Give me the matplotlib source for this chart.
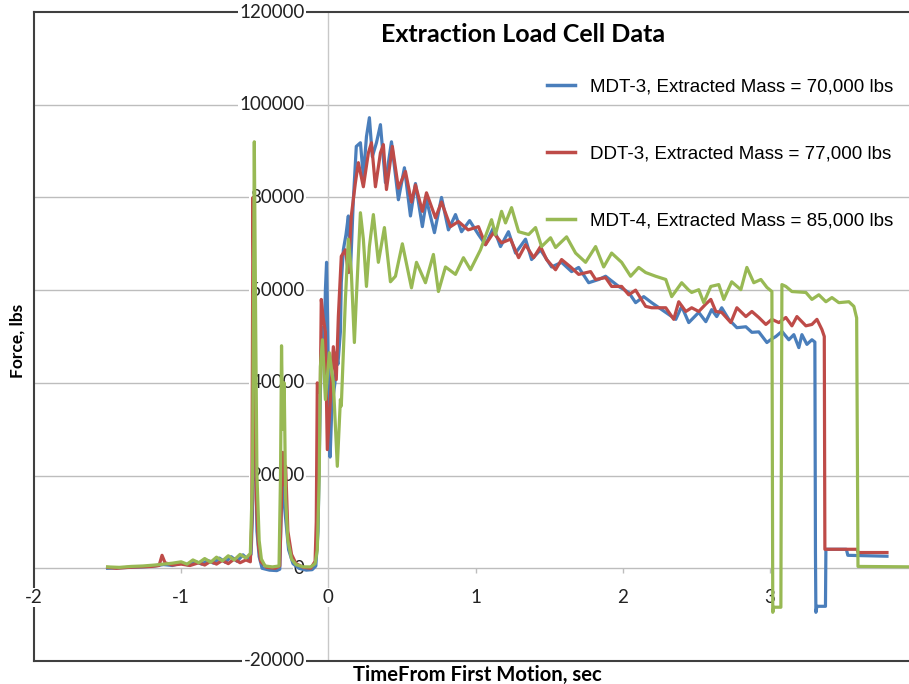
import matplotlib
matplotlib.use("Agg")
import matplotlib.pyplot as plt

# data (time in sec, force in lbs)
mdt3_t = [-1.50, -1.42, -1.34, -1.26, -1.18, -1.12, -1.06, -1.00, -0.95, -0.90, -0.86, -0.82, -0.78, -0.74,
          -0.70, -0.66, -0.62, -0.58, -0.55, -0.525, -0.515, -0.505, -0.495, -0.485, -0.47, -0.45, -0.40,
          -0.35, -0.33, -0.322, -0.312, -0.30, -0.285, -0.27, -0.24, -0.20, -0.15, -0.11, -0.085, -0.07,
          -0.058, -0.05, -0.04, -0.03, -0.02, -0.012, -0.005, 0.005, 0.012, 0.022, 0.03, 0.045, 0.054,
          0.065, 0.082, 0.088, 0.102, 0.12, 0.136, 0.150, 0.170, 0.190, 0.218, 0.238, 0.259, 0.279, 0.299,
          0.327, 0.354, 0.388, 0.429, 0.476, 0.517, 0.558, 0.592, 0.639, 0.667, 0.721, 0.769, 0.816, 0.864,
          0.905, 0.96, 1.020, 1.068, 1.122, 1.170, 1.224, 1.272, 1.340, 1.381, 1.442, 1.517, 1.585, 1.653,
          1.701, 1.769, 1.837, 1.884, 1.973, 2.041, 2.088, 2.143, 2.197, 2.265, 2.361, 2.401, 2.449, 2.517,
          2.565, 2.605, 2.639, 2.673, 2.721, 2.776, 2.837, 2.878, 2.925, 2.980, 3.014, 3.041, 3.082, 3.129,
          3.163, 3.197, 3.218, 3.252, 3.286, 3.306, 3.310, 3.313, 3.320, 3.378, 3.381, 3.52, 3.53, 3.796]
mdt3_f = [0, 100, 200, 300, 500, 800, 600, 1100, 700, 1400, 900, 1700, 1100, 2200,
          1300, 2500, 1500, 2900, 2000, 3000, 12000, 45000, 28000, 8000, 2500, 0, -400,
          -500, -200, 10000, 21000, 14000, 9000, 4000, 1000, 0, -400, -300, 500, 8000,
          30000, 45000, 52000, 46000, 60000, 66000, 54000, 30000, 24000, 33000, 36400, 40000, 46500,
          44000, 51000, 61600, 68700, 72000, 76000, 63800, 79500, 91000, 91800, 84500, 93100, 97200, 88800,
          91800, 95700, 83200, 92000, 79500, 86400, 76000, 83000, 73700, 79500, 72400, 80000, 73000, 76300,
          72600, 75000, 72000, 69800, 73500, 69400, 72600, 68000, 71000, 66600, 68700, 65000, 66000, 64000,
          64900, 61600, 62300, 63000, 60800, 59500, 57300, 58600, 57300, 55800, 53700, 56500, 53000, 55200,
          53200, 55800, 54300, 56200, 53700, 51900, 52100, 50900, 51000, 48700, 49500, 50000, 51100, 49300,
          50400, 47600, 50400, 48300, 49300, 48800, 3400, -9500, -8200, -8200, 4100, 4100, 2800, 2600]

ddt3_t = [-1.50, -1.44, -1.36, -1.28, -1.20, -1.15, -1.13, -1.11, -1.06, -1.00, -0.94, -0.88, -0.84, -0.80,
          -0.76, -0.72, -0.68, -0.64, -0.60, -0.56, -0.53, -0.52, -0.512, -0.50, -0.49, -0.475, -0.46, -0.42,
          -0.36, -0.33, -0.318, -0.31, -0.30, -0.29, -0.275, -0.25, -0.22, -0.17, -0.12, -0.09, -0.082,
          -0.075, -0.065, -0.054, -0.048, -0.035, -0.020, -0.007, 0.014, 0.034, 0.054, 0.068, 0.088, 0.116,
          0.136, 0.156, 0.184, 0.204, 0.238, 0.272, 0.293, 0.320, 0.354, 0.374, 0.395, 0.435, 0.476, 0.524,
          0.565, 0.592, 0.639, 0.667, 0.728, 0.769, 0.830, 0.884, 0.95, 1.020, 1.068, 1.122, 1.177, 1.238,
          1.293, 1.340, 1.395, 1.442, 1.483, 1.544, 1.585, 1.646, 1.701, 1.782, 1.816, 1.884, 1.925, 1.993,
          2.041, 2.088, 2.156, 2.197, 2.293, 2.347, 2.381, 2.429, 2.469, 2.517, 2.565, 2.599, 2.633, 2.673,
          2.735, 2.776, 2.837, 2.878, 2.925, 2.973, 3.014, 3.061, 3.109, 3.150, 3.184, 3.245, 3.286, 3.320,
          3.354, 3.370, 3.374, 3.592, 3.60, 3.796]
ddt3_f = [200, 0, 200, 300, 400, 600, 2800, 1200, 700, 900, 600, 1200, 700, 1500,
          900, 1700, 1000, 2000, 1200, 1800, 1400, 10000, 80000, 40000, 15000, 5000, 1500, 200,
          0, 500, 15000, 25000, 18000, 22000, 8000, 3000, 1000, 200, 0, 1500, 10000,
          40000, 38000, 40000, 58000, 54000, 51000, 25600, 36400, 47800, 40700, 54300, 67300, 68700,
          63800, 76000, 83200, 87500, 82300, 89600, 91800, 82300, 89600, 91400, 81700, 91000, 82000, 85600,
          79000, 82700, 77000, 81000, 75600, 79000, 73700, 74800, 73000, 73700, 69800, 72400, 70200, 71000,
          67000, 69800, 67000, 69400, 66600, 64400, 66600, 65000, 63400, 64000, 62300, 62700, 60800, 60800,
          59000, 60000, 56500, 56200, 56200, 53700, 57500, 55400, 56200, 55400, 57000, 58000, 55400, 55200,
          53000, 56200, 54300, 55400, 54100, 52600, 53700, 53000, 54100, 52300, 54300, 52300, 52600, 53700,
          51500, 50000, 4100, 4100, 3400, 3400]

mdt4_t = [-1.50, -1.42, -1.34, -1.26, -1.18, -1.12, -1.06, -1.00, -0.96, -0.92, -0.88, -0.84, -0.80, -0.76,
          -0.72, -0.68, -0.64, -0.60, -0.56, -0.53, -0.515, -0.503, -0.493, -0.485, -0.47, -0.455, -0.43,
          -0.38, -0.335, -0.325, -0.318, -0.31, -0.30, -0.29, -0.275, -0.25, -0.22, -0.17, -0.12, -0.09,
          -0.075, -0.062, -0.054, -0.040, -0.020, 0.007, 0.034, 0.061, 0.082, 0.088, 0.116, 0.136, 0.156,
          0.177, 0.190, 0.218, 0.238, 0.259, 0.279, 0.306, 0.340, 0.381, 0.422, 0.456, 0.503, 0.565, 0.599,
          0.660, 0.714, 0.748, 0.796, 0.864, 0.918, 0.966, 1.034, 1.109, 1.136, 1.177, 1.204, 1.245, 1.293,
          1.361, 1.408, 1.449, 1.510, 1.544, 1.619, 1.680, 1.748, 1.816, 1.871, 1.925, 1.993, 2.054, 2.109,
          2.156, 2.224, 2.293, 2.333, 2.401, 2.449, 2.469, 2.517, 2.551, 2.599, 2.653, 2.687, 2.741, 2.803,
          2.844, 2.891, 2.939, 2.980, 3.014, 3.020, 3.027, 3.075, 3.082, 3.109, 3.150, 3.245, 3.286, 3.333,
          3.381, 3.422, 3.469, 3.537, 3.571, 3.590, 3.599, 4.0]
mdt4_f = [300, 200, 400, 500, 700, 900, 1100, 1400, 900, 1800, 1200, 2100, 1300, 2400,
          1600, 2700, 1800, 3000, 2200, 3200, 20000, 92000, 50000, 20000, 6000, 2000, 500,
          300, 500, 20000, 48000, 30000, 40000, 15000, 6000, 2000, 800, 300, 300, 1000,
          4000, 19800, 43500, 49300, 36400, 46500, 40000, 22000, 36400, 35000, 58000, 71000, 64000,
          48700, 58000, 76700, 71000, 60800, 69400, 76300, 66000, 73500, 61800, 63000, 70000, 60500, 66000,
          61600, 67700, 59700, 65000, 63400, 67000, 64400, 68700, 75200, 72000, 77000, 74500, 77800, 72600,
          72000, 73500, 69400, 71300, 69200, 71500, 68000, 66000, 69400, 65000, 68000, 66000, 63000, 64900,
          63800, 63000, 62300, 58600, 61600, 60000, 59500, 60100, 57300, 60800, 61200, 58000, 61800, 60100,
          64900, 61600, 62300, 60600, 59700, -9500, -8400, -8400, 61200, 60800, 59700, 59500, 58000, 59000,
          57500, 58400, 57300, 57500, 56500, 54000, 400, 300]

series_labels = ["MDT-3, Extracted Mass = 70,000 lbs",
                 "DDT-3, Extracted Mass = 77,000 lbs",
                 "MDT-4, Extracted Mass = 85,000 lbs"]
series_colors = ["#4a7ebb", "#be4b48", "#98b954"]

y_ticks = [-20000, 0, 20000, 40000, 60000, 80000, 100000, 120000]
x_ticks = [-2, -1, 0, 1, 2, 3, 4]

fig = plt.figure(figsize=(9.09, 6.84), dpi=100)
ax = fig.add_axes([34 / 909, 23 / 684, 883 / 909, 649 / 684])
ax.set_xlim(-2, 4)
ax.set_ylim(-20000, 120000)
ax.set_xticks([])
ax.set_yticks([])
for s in ax.spines.values():
    s.set_color("#3f3f3f")
    s.set_linewidth(1.5)
    s.set_zorder(1.5)

# gridlines and the axis lines through zero
for v in y_ticks[1:-1]:
    ax.axhline(v, color="#bdbdbd", lw=1.0, zorder=1)
ax.axvline(0, color="#c8c8c8", lw=1.0, zorder=1)
for v in x_ticks[1:-1]:
    if v != 0:
        ax.vlines(v, -1100, 0, color="#bdbdbd", lw=1.0, zorder=1)

# tick labels sit on a white patch that hides the lines behind them
label_box = dict(facecolor="white", edgecolor="none", pad=1.0)
tick_font = dict(family="Lato", fontsize=13.5, color="#222222")
for v in y_ticks:
    ax.text(-0.16, v, str(v), ha="right", va="center", zorder=2,
            bbox=label_box, clip_on=False, **tick_font)
for v in x_ticks:
    ax.text(v, -6300, str(v), ha="center", va="center", zorder=2,
            bbox=label_box, clip_on=False, **tick_font)

data = [(mdt3_t, mdt3_f), (ddt3_t, ddt3_f), (mdt4_t, mdt4_f)]
for (t, f), lab, col in zip(data, series_labels, series_colors):
    ax.plot(t, f, color=col, lw=2.3, label=lab, zorder=3)

fig.text(523.5 / 909, 1 - 35 / 684, "Extraction Load Cell Data", ha="center", va="center",
         family="Lato", fontweight="bold", fontsize=18)
fig.text(18 / 909, 1 - 341 / 684, "Force, lbs", ha="center", va="center", rotation=90,
         family="Lato", fontweight="bold", fontsize=12.5)
fig.text(477 / 909, 1 - 675 / 684, "TimeFrom First Motion, sec", ha="center", va="center",
         family="Lato", fontweight="bold", fontsize=14.6)

leg = ax.legend(loc="upper left", bbox_to_anchor=(547 / 909, 1 - 78 / 684),
                bbox_transform=fig.transFigure, frameon=False, borderpad=0, borderaxespad=0,
                handlelength=1.5, handletextpad=0.8, labelspacing=2.66,
                prop={"family": "Liberation Sans", "size": 13.5})
for line in leg.get_lines():
    line.set_linewidth(2.5)

fig.savefig("out.png", dpi=100)
